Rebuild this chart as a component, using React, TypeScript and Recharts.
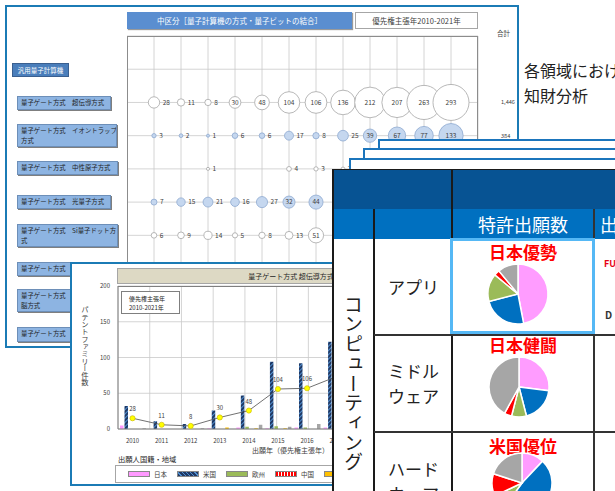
import React from 'react';
import {
  ScatterChart, Scatter, XAxis, YAxis, ZAxis, CartesianGrid,
  ComposedChart, Bar, Line, LabelList, PieChart, Pie, Cell,
} from 'recharts';

const FONT = '"Noto Sans CJK JP", "Noto Sans", sans-serif';

// 優先権主張年
const years = ['2010', '2011', '2012', '2013', '2014', '2015', '2016', '2017', '2018', '2019', '2020', '2021'];

// バブル表（行ごとの件数）
const superconducting = [28, 11, 8, 30, 48, 104, 106, 136, 212, 207, 263, 293];
const ionTrap = [3, 2, 1, 6, 6, 17, 8, 25, 39, 67, 77, 133];
const neutralAtom = [0, 0, 1, 0, 0, 4, 3, 2, 5, 6, 9, 12];
const photonic = [7, 15, 21, 16, 27, 32, 44, 40, 52, 61, 58, 70];
const siQuantumDot = [6, 9, 14, 5, 8, 13, 51, 18, 22, 30, 27, 35];

// 超伝導方式 出願人国籍別
const japan = [5, 0, 0, 1, 2, 1, 2, 2, 3, 4, 3, 5];
const usa = [32, 11, 7, 26, 47, 94, 92, 122, 180, 170, 215, 240];
const europe = [0, 0, 0, 0, 3, 4, 2, 3, 6, 8, 9, 10];
const china = [0, 0, 0, 0, 0, 0, 0, 1, 2, 2, 4, 5];
const korea = [0, 0, 0, 2, 1, 1, 0, 1, 2, 3, 2, 4];
const others = [1, 0, 1, 0, 6, 3, 7, 6, 15, 18, 25, 28];

// 特許出願数の国籍別シェア（日本, 米国, 欧州, 中国, その他）
const appShare = [47, 24, 15, 3, 11];
const middlewareShare = [27, 19, 8, 4, 42];
const hardwareShare = [12, 48, 8, 12, 20];

const pieNames = ['日本', '米国', '欧州', '中国', 'その他'];
const pieColors = ['#ff9cff', '#0070c0', '#9bbb59', '#ff0000', '#a6a6a6'];

const colTicks = [-1, 0, 1, 2, 3, 4, 5, 6, 7, 8, 9, 10, 11, 12];
const rowTicks = [0, 1, 2, 3, 4, 5, 6, 7, 8, 9];

const sum = (a: number[]) => a.reduce((s, v) => s + v, 0);
const totalsByRow: Record<number, string> = {
  0: '合計',
  2: sum(superconducting).toLocaleString('en-US'),
  3: sum(ionTrap).toLocaleString('en-US'),
};

const toPoints = (vals: number[], row: number) =>
  vals.map((z, x) => ({ x, y: row, z })).filter((p) => p.z > 0);

const Bubble = (props: any) => {
  const { cx, cy, width, payload, fillC, strokeC } = props;
  const r = Math.max((width || 0) / 2, 1);
  const inside = payload.z >= 30;
  return (
    <g>
      <circle cx={cx} cy={cy} r={r} fill={fillC} stroke={strokeC} strokeWidth={0.8} />
      <text
        x={inside ? cx : cx + r + 3}
        y={cy}
        dy="0.35em"
        textAnchor={inside ? 'middle' : 'start'}
        fontSize={6.5}
        fill="#404040"
        fontFamily={FONT}
      >
        {payload.z}
      </text>
    </g>
  );
};

const TotalTick = (props: any) => {
  const { x, y, payload } = props;
  const label = totalsByRow[payload.value];
  if (!label) return <g />;
  const head = payload.value === 0;
  return (
    <text x={x + (head ? 11 : 15)} y={head ? y - 2 : y} dy="0.35em" fontSize={head ? 6.5 : 5.6} fill="#404040" fontFamily={FONT}>
      {label}
    </text>
  );
};

const bubbleRows = [
  { row: 2, vals: superconducting, fill: '#ffffff', stroke: '#a6a6a6' },
  { row: 3, vals: ionTrap, fill: '#c5d7ef', stroke: '#8ea9d0' },
  { row: 4, vals: neutralAtom, fill: '#ffffff', stroke: '#a6a6a6' },
  { row: 5, vals: photonic, fill: '#c5d7ef', stroke: '#8ea9d0' },
  { row: 6, vals: siQuantumDot, fill: '#ffffff', stroke: '#a6a6a6' },
];

const labelBoxes = [
  { top: 96, width: 94, h: 14, lines: ['量子ゲート方式　超伝導方式'] },
  { top: 124, width: 100, h: 23, lines: ['量子ゲート方式　イオントラップ', '方式'] },
  { top: 161, width: 101, h: 14, lines: ['量子ゲート方式　中性原子方式'] },
  { top: 195, width: 94, h: 14, lines: ['量子ゲート方式　光量子方式'] },
  { top: 224, width: 101, h: 23, lines: ['量子ゲート方式　Si量子ドット方', '式'] },
  { top: 262, width: 62, h: 14, lines: ['量子ゲート方式'] },
  { top: 289, width: 62, h: 23, lines: ['量子ゲート方式', '脳方式'] },
  { top: 327, width: 62, h: 15, lines: ['量子ゲート方式'] },
];

const barData = years.map((year, i) => ({
  year,
  japan: japan[i],
  usa: usa[i],
  europe: europe[i],
  china: china[i],
  korea: korea[i],
  others: others[i],
  total: superconducting[i],
}));

const barSeries = [
  { key: 'japan', name: '日本', fill: '#ff99ff', swatch: '#ff99ff' },
  { key: 'usa', name: '米国', fill: 'url(#usHatch)', swatch: 'repeating-linear-gradient(45deg,#1f3864 0 2px,#4f8fd0 2px 3px)' },
  { key: 'europe', name: '欧州', fill: '#9bbb59', swatch: '#9bbb59' },
  { key: 'china', name: '中国', fill: 'url(#cnDots)', swatch: 'repeating-linear-gradient(90deg,#ff0000 0 2px,#ffffff 2px 3px)' },
  { key: 'korea', name: '韓国', fill: '#ffc000', swatch: '#ffc000' },
  { key: 'others', name: 'その他', fill: '#a6a6a6', swatch: '#a6a6a6' },
];

const YellowDot = (props: any) => {
  const { cx, cy } = props;
  if (cx == null || cy == null) return <g />;
  return <circle cx={cx} cy={cy} r={2.6} fill="#ffff00" stroke="#c8b400" strokeWidth={0.6} />;
};

const abs = (left: number, top: number, extra: React.CSSProperties = {}): React.CSSProperties => ({
  position: 'absolute', left, top, boxSizing: 'border-box', ...extra,
});

const cellText = (left: number, top: number, text: string) => (
  <div style={{ position: 'absolute', left, top, fontSize: 17, lineHeight: '22px', color: '#222', whiteSpace: 'nowrap' }}>{text}</div>
);

const SharePie = ({ values, left, top }: { values: number[]; left: number; top: number }) => {
  const data = values.map((v, i) => ({ name: pieNames[i], value: v }));
  return (
    <div style={abs(left, top)}>
      <PieChart width={64} height={64} margin={{ top: 0, right: 0, bottom: 0, left: 0 }}>
        <Pie
          data={data}
          dataKey="value"
          startAngle={90}
          endAngle={-270}
          outerRadius={30}
          stroke="#ffffff"
          strokeWidth={1.5}
          isAnimationActive={false}
        >
          {data.map((d, i) => (
            <Cell key={d.name} fill={pieColors[i]} />
          ))}
        </Pie>
      </PieChart>
    </div>
  );
};

export default function App() {
  return (
    <div style={{ position: 'fixed', left: 0, top: 0, width: 615, height: 491, overflow: 'hidden', background: '#fff', fontFamily: FONT }}>
      {/* 背面：バブル表 */}
      <div style={abs(5, 5, { width: 514, height: 343, border: '2px solid #1b7bb5', background: '#fff' })} />
      <div style={abs(127, 12, { width: 225, height: 17, background: '#5a8ed0', color: '#fff', fontSize: 7.5, lineHeight: '17px', textAlign: 'center', boxShadow: '1px 1px 1px #9a9a9a' })}>
        中区分［量子計算機の方式・量子ビットの結合］
      </div>
      <div style={abs(355, 12, { width: 123, height: 17, border: '1px solid #a6a6a6', color: '#404040', fontSize: 7.5, lineHeight: '15px', textAlign: 'center' })}>
        優先権主張年2010-2021年
      </div>
      <div style={abs(12, 63, { width: 57, height: 14, background: '#4a7ebb', border: '1px solid #3a5f8f', color: '#fff', fontSize: 6.5, lineHeight: '12px', textAlign: 'center', whiteSpace: 'nowrap' })}>
        汎用量子計算機
      </div>
      {labelBoxes.map((b) => (
        <div
          key={b.top}
          style={abs(17, b.top, {
            width: b.width, height: b.h, background: '#8db4e2', border: '1px solid #6d8fb8',
            boxShadow: '1px 1px 0 #7f7f7f', color: '#1f1f1f', fontSize: 6.4, lineHeight: '10px',
            padding: '1px 3px', overflow: 'hidden', whiteSpace: 'nowrap',
          })}
        >
          {b.lines.map((l, i) => (
            <div key={i}>{l}</div>
          ))}
        </div>
      ))}
      <div style={abs(127, 26)}>
        <ScatterChart width={411} height={309} margin={{ top: 10, right: 0, bottom: 0, left: 0 }}>
          <CartesianGrid stroke="#c9c9c9" strokeWidth={0.8} />
          <XAxis type="number" dataKey="x" domain={[-1, 12]} ticks={colTicks} hide />
          <YAxis type="number" dataKey="y" domain={[0, 9]} ticks={rowTicks} reversed hide />
          <YAxis
            yAxisId="tot"
            orientation="right"
            type="number"
            domain={[0, 9]}
            ticks={[0, 2, 3]}
            reversed
            allowDataOverflow
            width={60}
            axisLine={false}
            tickLine={false}
            tick={<TotalTick />}
          />
          <ZAxis type="number" dataKey="z" domain={[0, 293]} range={[4, 1018]} />
          {bubbleRows.map((r) => (
            <Scatter
              key={r.row}
              data={toPoints(r.vals, r.row)}
              isAnimationActive={false}
              shape={(p: any) => <Bubble {...p} fillC={r.fill} strokeC={r.stroke} />}
            />
          ))}
        </ScatterChart>
      </div>
      <div style={abs(127, 36, { width: 351, height: 320, border: '1px solid #8c8c8c', borderBottom: 'none' })} />
      <div style={{ position: 'absolute', left: 524, top: 61, fontSize: 16, lineHeight: '18px', color: '#222', whiteSpace: 'nowrap' }}>各領域における</div>
      <div style={{ position: 'absolute', left: 524, top: 86, fontSize: 16, lineHeight: '18px', color: '#222', whiteSpace: 'nowrap' }}>知財分析</div>

      {/* 重なったシートの枠 */}
      <div style={abs(378, 139, { width: 300, height: 200, border: '2px solid #1b75bc', background: '#fff' })} />
      <div style={abs(363, 148, { width: 300, height: 200, border: '2px solid #1b75bc', background: '#fff' })} />
      <div style={abs(349, 158, { width: 300, height: 200, border: '2px solid #1b75bc', background: '#fff' })} />

      {/* 前面左：棒グラフ */}
      <div style={abs(70, 262, { width: 430, height: 224, border: '2px solid #1b7bb5', background: '#fff' })} />
      <div style={abs(117, 268, { width: 348, height: 16, background: '#ddd9c4', border: '1px solid #a6a6a6', color: '#262626', fontSize: 7, lineHeight: '14px', textAlign: 'center' })}>
        量子ゲート方式 超伝導方式
      </div>
      <div style={abs(80, 280)}>
        <ComposedChart width={387} height={169} data={barData} margin={{ top: 6, right: 0, bottom: 0, left: 0 }} barSize={3.5} barGap={1}>
          <defs>
            <pattern id="usHatch" width="3" height="3" patternUnits="userSpaceOnUse" patternTransform="rotate(45)">
              <rect width="3" height="3" fill="#1f3864" />
              <rect width="1" height="3" fill="#4f8fd0" />
            </pattern>
            <pattern id="cnDots" width="2" height="2" patternUnits="userSpaceOnUse">
              <rect width="2" height="2" fill="#ff0000" />
              <rect width="1" height="1" fill="#ffffff" />
            </pattern>
          </defs>
          <XAxis xAxisId="grid" type="number" domain={[0, 12]} ticks={[0, 1, 2, 3, 4, 5, 6, 7, 8, 9, 10, 11, 12]} allowDataOverflow hide />
          <CartesianGrid xAxisId="grid" yAxisId="left" stroke="#c9c9c9" strokeWidth={0.8} />
          <XAxis
            dataKey="year"
            interval={0}
            tickLine={false}
            axisLine={{ stroke: '#7f7f7f' }}
            tick={{ fontSize: 6, fill: '#404040', fontFamily: FONT }}
            tickMargin={4}
            height={20}
          />
          <YAxis
            yAxisId="left"
            domain={[0, 200]}
            ticks={[0, 50, 100, 150, 200]}
            allowDataOverflow
            width={38}
            tickLine={false}
            axisLine={{ stroke: '#7f7f7f' }}
            tick={{ fontSize: 6, fill: '#404040', fontFamily: FONT }}
          />
          <YAxis yAxisId="right" orientation="right" domain={[0, 372]} allowDataOverflow hide />
          {barSeries.map((s) => (
            <Bar key={s.key} yAxisId="left" dataKey={s.key} name={s.name} fill={s.fill} isAnimationActive={false} />
          ))}
          <Line
            yAxisId="right"
            dataKey="total"
            stroke="#4d4d4d"
            strokeWidth={0.8}
            dot={<YellowDot />}
            isAnimationActive={false}
          >
            <LabelList dataKey="total" position="top" offset={7} fontSize={6} fill="#404040" fontFamily={FONT} />
          </Line>
        </ComposedChart>
      </div>
      <div style={abs(118, 286, { width: 214, height: 143, borderTop: '1px solid #7f7f7f' })} />
      <div style={abs(121, 291, { width: 59, height: 23, border: '1px solid #7f7f7f', background: '#fff', color: '#262626', fontSize: 6, lineHeight: '9px', padding: '2px 0 0 7px' })}>
        <div>優先権主張年</div>
        <div>2010-2021年</div>
      </div>
      <div style={{ position: 'absolute', left: 80, top: 306, writingMode: 'vertical-rl', fontSize: 7.3, color: '#404040', lineHeight: '10px' }}>
        パテントファミリー件数
      </div>
      <div style={{ position: 'absolute', left: 252, top: 445, fontSize: 7, color: '#404040', whiteSpace: 'nowrap' }}>
        出願年（優先権主張年）
      </div>
      <div style={{ position: 'absolute', left: 118, top: 454, fontSize: 7.3, color: '#262626', whiteSpace: 'nowrap' }}>
        出願人国籍・地域
      </div>
      <div style={abs(115, 465, { width: 217, height: 18, border: '1px solid #a6a6a6', borderRight: 'none', display: 'flex', alignItems: 'center', paddingLeft: 12, overflow: 'hidden' })}>
        {barSeries.slice(0, 5).map((s, i) => (
          <div key={s.key} style={{ width: 49, display: 'flex', alignItems: 'center', flexShrink: 0 }}>
            <span style={{ display: 'inline-block', width: 20, height: 4, background: s.swatch, border: '0.5px solid #888', marginRight: 4 }} />
            {i < 4 && <span style={{ fontSize: 6.5, color: '#404040', whiteSpace: 'nowrap' }}>{s.name}</span>}
          </div>
        ))}
      </div>

      {/* 前面右：表 */}
      <div style={abs(332, 169, { width: 300, height: 330, background: '#fff', borderLeft: '2px solid #1a1a1a', borderTop: '1px solid #1a1a1a' })} />
      <div style={abs(334, 170, { width: 290, height: 39, background: '#075393' })} />
      <div style={abs(334, 209, { width: 290, height: 30, background: '#0070c0' })} />
      <div style={abs(451, 170, { width: 1.5, height: 330, background: '#1a1a1a' })} />
      <div style={abs(373, 209, { width: 1.5, height: 290, background: '#1a1a1a' })} />
      <div style={abs(593, 209, { width: 1.5, height: 290, background: '#333' })} />
      <div style={abs(374, 334, { width: 250, height: 1.5, background: '#333' })} />
      <div style={abs(374, 431, { width: 250, height: 1.5, background: '#333' })} />
      <div style={{ position: 'absolute', left: 452, top: 213, width: 142, textAlign: 'center', color: '#fff', fontSize: 18, lineHeight: '22px' }}>
        特許出願数
      </div>
      <div style={{ position: 'absolute', left: 600, top: 213, width: 15, overflow: 'hidden', color: '#fff', fontSize: 18, lineHeight: '22px', whiteSpace: 'nowrap' }}>出願人</div>
      <div style={{ position: 'absolute', left: 343, top: 295, writingMode: 'vertical-rl', fontSize: 19, letterSpacing: 0.7, lineHeight: '21px', color: '#222' }}>
        コンピューティング
      </div>
      {cellText(388, 276, 'アプリ')}
      {cellText(388, 360, 'ミドル')}
      {cellText(388, 385, 'ウェア')}
      {cellText(388, 458, 'ハード')}
      {cellText(388, 483, 'ウェア')}
      <div style={{ position: 'absolute', left: 452, top: 241, width: 142, textAlign: 'center', color: '#ff0000', fontSize: 17, fontWeight: 700, lineHeight: '22px' }}>日本優勢</div>
      <div style={{ position: 'absolute', left: 452, top: 334, width: 142, textAlign: 'center', color: '#ff0000', fontSize: 17, fontWeight: 700, lineHeight: '22px' }}>日本健闘</div>
      <div style={{ position: 'absolute', left: 452, top: 435, width: 142, textAlign: 'center', color: '#ff0000', fontSize: 17, fontWeight: 700, lineHeight: '22px' }}>米国優位</div>
      <SharePie values={appShare} left={486} top={262} />
      <SharePie values={middlewareShare} left={487} top={355} />
      <SharePie values={hardwareShare} left={490} top={451} />
      <div style={abs(450, 238, { width: 145, height: 96, border: '3px solid #55b8f5' })} />
      <div style={{ position: 'absolute', left: 604, top: 257, width: 11, overflow: 'hidden', color: '#e60012', fontSize: 9, fontWeight: 700, whiteSpace: 'nowrap' }}>FUJITSU</div>
      <div style={{ position: 'absolute', left: 605, top: 307, color: '#333', fontSize: 10, fontWeight: 700 }}>D</div>
    </div>
  );
}
